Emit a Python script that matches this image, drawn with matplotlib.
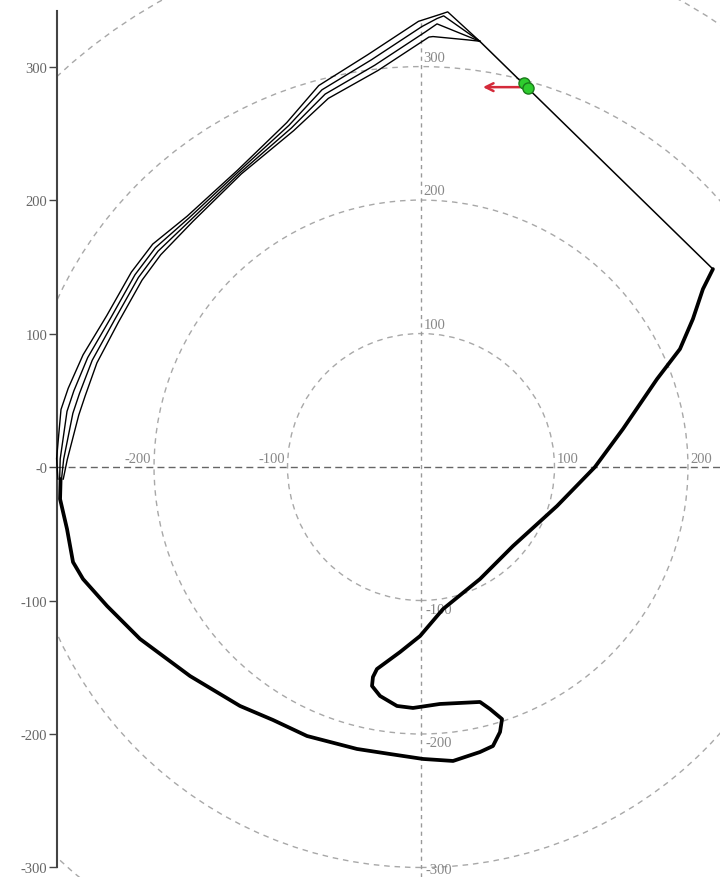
import matplotlib
matplotlib.use('Agg')
import matplotlib.pyplot as plt
from matplotlib.patches import Circle, Rectangle

# straight run from the top apex down to the right-hand corner
straight_x = [44, 218.7]
straight_y = [319, 148.3]

# shared part of every lap: right side, S-bend, bottom sweep, up the left side
loop_x = [218.7, 211.2, 203.7, 194, 176.8, 151.3, 130.3, 101.9, 68.9, 44.2,
          16.5, -0.7, -15.7, -33, -36, -36.7, -30.7, -18, -6, 14.2, 44.2,
          51.7, 60.7, 59.2, 53.9, 44.2, 24, 1.5, -23.2, -48, -85.4,
          -110.9, -135.6, -173, -210.5, -235.2, -253.2, -260.7, -265.2, -270.4, -270]
loop_y = [148.3, 133.3, 110.9, 88.4, 65.9, 28.5, 0, -29.2, -59.2, -83.9,
          -106.4, -126.6, -138.6, -151.3, -157.3, -164, -171.5, -179, -180.5, -177.5, -176,
          -181.3, -188.8, -198.5, -209, -213.5, -220.2, -218.7, -215, -211.2, -201.5,
          -189.5, -179, -156.6, -128.8, -104.1, -83.9, -71.2, -46.4, -24, -9]

# upper-left stretch, which differs a little from lap to lap
lap1_x = [-272, -273, -269.7, -264.3, -253.2, -235.4, -217, -201, -175.1, -137.4,
          -100.6, -76.6, -39.9, -1.9, 14, 20, 44]
lap1_y = [-9, 6.4, 43.1, 59, 84, 113.5, 146, 167, 188, 222.4,
          258, 285.8, 308.9, 333.9, 339, 341, 319]
lap2_x = [-270.7, -270.3, -265.2, -260.1, -249.7, -232.4, -214.3, -199, -173.7, -136.5,
          -98.9, -74.2, -37.3, 0.7, 12, 17, 44]
lap2_y = [-9, 6.1, 41.7, 57, 82, 111.8, 144, 164.3, 186.7, 221.5,
          256, 282.6, 305, 330, 336, 338, 319]
lap3_x = [-269.3, -267.7, -260.8, -255.9, -246.3, -229.6, -211.7, -197, -172.3, -135.5,
          -97.1, -71.8, -34.7, 3.3, 12, 44]
lap3_y = [-9, 5.9, 40.3, 55, 80, 110.2, 142, 161.7, 185.3, 220.5,
          254, 279.4, 301, 326, 332, 319]
lap4_x = [-268, -265, -256.4, -251.7, -242.8, -226.7, -209, -195, -170.9, -134.6,
          -95.4, -69.4, -32.2, 5.9, 9, 35, 44]
lap4_y = [-9, 5.6, 38.9, 53, 78, 108.5, 140, 159, 184, 219.6,
          252, 276.2, 297.1, 322.1, 322.5, 320, 319]
laps = [(lap1_x, lap1_y), (lap2_x, lap2_y), (lap3_x, lap3_y), (lap4_x, lap4_y)]

ring_radii = [100, 200, 300, 400]
y_ticks = [-300, -200, -100, 0, 100, 200, 300]
y_tick_labels = ['-300', '-200', '-100', '-0', '100', '200', '300']
x_axis_values = [-200, -100, 100, 200]
y_axis_values = [100, 200, 300, -100, -200, -300]

# current position and heading
marker_x = [77, 80.5]
marker_y = [287.5, 284]
heading_start = (74, 284.6)
heading_end = (46.4, 284.6)

spine_x = -272.7

fig = plt.figure(figsize=(7.2, 8.78), dpi=100)
ax = fig.add_axes([0, 0, 1, 1])
ax.set_xlim(-315.4, 224)
ax.set_ylim(-307.1, 350.6)
ax.set_aspect('equal', adjustable='box')

for side in ['top', 'right', 'bottom']:
    ax.spines[side].set_visible(False)
ax.spines['left'].set_position(('data', spine_x))
ax.spines['left'].set_bounds(-300, 342)
ax.spines['left'].set_color('#444444')
ax.spines['left'].set_linewidth(1.5)
ax.set_xticks([])
ax.set_yticks(y_ticks, y_tick_labels)
ax.tick_params(axis='y', direction='out', length=6, width=1.0, color='#444444',
               labelcolor='#666666', labelsize=10.5, pad=1)
for lbl in ax.get_yticklabels():
    lbl.set_family('Liberation Serif')

# everything on the grid stays right of the axis line
clip = Rectangle((spine_x, -400), 700, 800, transform=ax.transData)

for r in ring_radii:
    c = Circle((0, 0), r, fill=False, edgecolor='#a8a8a8', lw=1.0,
               linestyle=(0, (4, 3.5)), zorder=1)
    ax.add_patch(c)
    c.set_clip_path(clip)

ax.plot([spine_x, 224], [0, 0], color='#666666', lw=1.0,
        linestyle=(0, (5, 3)), zorder=1)
ax.plot([0, 0], [-307.1, 335], color='#999999', lw=1.0,
        linestyle=(0, (3, 3)), zorder=1)

label_style = dict(color='#888888', fontsize=10.5, family='Liberation Serif', zorder=2)
for v in x_axis_values:
    if v < 0:
        ax.text(v - 2, 1.5, str(v), ha='right', va='bottom', **label_style)
    else:
        ax.text(v + 2, 1.5, str(v), ha='left', va='bottom', **label_style)
for v in y_axis_values:
    if v > 0:
        ax.text(2, v + 2, str(v), ha='left', va='bottom', **label_style)
    elif v == -300:
        # bottom edge: sit on the baseline so it stays inside the figure
        ax.text(3, v - 4.1, str(v), ha='left', va='baseline', **label_style)
    else:
        ax.text(3, v - 1.5, str(v), ha='left', va='top', **label_style)

# track
ax.plot(straight_x, straight_y, color='black', lw=1.1, zorder=3)
ax.plot(loop_x, loop_y, color='black', lw=2.7, solid_joinstyle='round',
        solid_capstyle='round', zorder=3)
for lx, ly in laps:
    ax.plot(lx, ly, color='black', lw=1.0, zorder=3)

ax.annotate('', xy=heading_end, xytext=heading_start,
            arrowprops=dict(arrowstyle='->', color='#d42a3a', lw=1.8,
                            mutation_scale=14, shrinkA=0, shrinkB=0), zorder=4)
ax.plot(marker_x, marker_y, 'o', color='#2ecc2e', markeredgecolor='#1a7a1a',
        markersize=8, markeredgewidth=1.0, zorder=5)

fig.savefig('out.png', dpi=100)
